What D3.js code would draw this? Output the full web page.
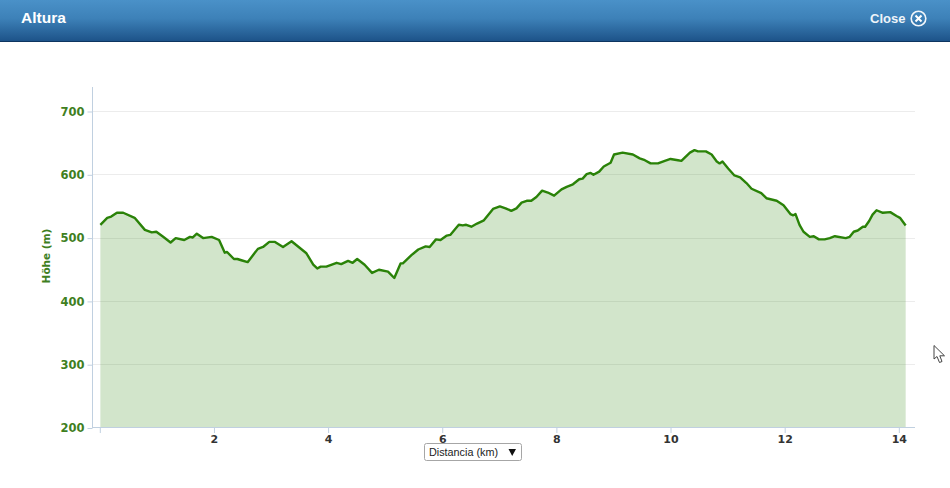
<!DOCTYPE html>
<html>
<head>
<meta charset="utf-8">
<script src="https://cdn.jsdelivr.net/npm/d3@7/dist/d3.min.js"></script>
<style>
html,body{margin:0;padding:0;background:#fff;overflow:hidden}
svg{display:block}
</style>
</head>
<body>
<svg id="chart" width="950" height="488"></svg>
<script>
const distanceKm = [0.01,0.13,0.20,0.30,0.41,0.61,0.79,0.91,0.99,1.11,1.24,1.33,1.48,1.58,1.63,1.70,1.81,1.96,2.09,2.19,2.23,2.35,2.41,2.48,2.59,2.77,2.86,2.97,3.07,3.21,3.36,3.62,3.74,3.81,3.87,3.97,4.15,4.23,4.35,4.43,4.51,4.64,4.77,4.89,5.05,5.16,5.27,5.31,5.46,5.58,5.71,5.78,5.89,5.97,6.08,6.14,6.29,6.36,6.42,6.51,6.61,6.73,6.89,7.01,7.11,7.21,7.30,7.39,7.48,7.56,7.65,7.75,7.85,7.96,8.09,8.18,8.29,8.40,8.46,8.53,8.60,8.65,8.75,8.83,8.95,9.01,9.16,9.34,9.46,9.55,9.65,9.78,9.90,10.00,10.13,10.19,10.34,10.42,10.48,10.62,10.72,10.81,10.86,10.91,11.01,11.12,11.22,11.33,11.42,11.59,11.68,11.86,11.98,12.10,12.15,12.19,12.26,12.33,12.44,12.51,12.60,12.70,12.79,12.88,13.07,13.14,13.21,13.28,13.37,13.41,13.48,13.54,13.61,13.72,13.85,13.96,14.02,14.12];
const elevationM = [521,532,534,540,540,532,513,509,510,502,493,500,497,502,501,507,500,502,497,477,478,467,467,465,462,483,486,494,494,486,495,476,458,452,455,455,461,459,464,461,467,458,445,450,447,437,460,460,473,482,487,486,498,497,504,505,521,520,521,518,523,528,546,550,547,543,547,556,559,559,565,575,572,567,577,581,585,593,594,601,603,600,605,613,619,632,635,632,626,623,618,618,622,625,623,622,635,639,637,637,632,621,618,621,610,599,596,587,578,571,563,559,552,538,536,538,521,510,502,503,498,498,500,503,500,502,510,512,518,518,527,537,544,540,541,535,532,520];
const xTicks = [0,2,4,6,8,10,12,14];
const yTicks = [200,300,400,500,600,700];
const titleText = "Altura";
const closeText = "Close";
const yTitle = "Höhe (m)";
const selectText = "Distancia (km)";

const green = "#2a8208";
const labelGreen = "#3f7f1f";
const axisColor = "#c0d0e0";
const svg = d3.select("#chart");
const points = distanceKm.map((d,i)=>({d, e:elevationM[i]}));

const x = d3.scaleLinear().domain([0,14.28]).range([99.8,914.8]);
const y = d3.scaleLinear().domain([200,738.7]).range([428,87]);

// header
const defs = svg.append("defs");
const grad = defs.append("linearGradient").attr("id","hdr").attr("x1",0).attr("y1",0).attr("x2",0).attr("y2",1);
grad.append("stop").attr("offset","0%").attr("stop-color","#4a91c8");
grad.append("stop").attr("offset","45%").attr("stop-color","#3d81b8");
grad.append("stop").attr("offset","100%").attr("stop-color","#1d5389");
svg.append("rect").attr("x",0).attr("y",0).attr("width",950).attr("height",41).attr("fill","url(#hdr)");
svg.append("rect").attr("x",0).attr("y",41).attr("width",950).attr("height",1).attr("fill","#0d3560");
svg.append("text").attr("x",21).attr("y",23).attr("font-family","'Liberation Sans',Arial,sans-serif")
  .attr("font-size",15.5).attr("font-weight","bold").attr("fill","#fff").text(titleText);
svg.append("text").attr("x",870).attr("y",23).attr("font-family","'Liberation Sans',Arial,sans-serif")
  .attr("font-size",13).attr("font-weight","bold").attr("fill","#eef4f9").text(closeText);
svg.append("circle").attr("cx",918.5).attr("cy",18.5).attr("r",7.3).attr("fill","none").attr("stroke","#f2f6fa").attr("stroke-width",1.6);
svg.append("path").attr("d","M915.5 15.5L921.5 21.5M921.5 15.5L915.5 21.5").attr("stroke","#fff").attr("stroke-width",2);

// grid
svg.append("g").selectAll("line").data(yTicks.slice(1)).join("line")
  .attr("x1",92).attr("x2",915)
  .attr("y1",d=>Math.floor(y(d))+0.5).attr("y2",d=>Math.floor(y(d))+0.5)
  .attr("stroke","#ececec").attr("stroke-width",1);

// area + line
const area = d3.area().x(d=>x(d.d)).y0(y(200)).y1(d=>y(d.e));
const line = d3.line().x(d=>x(d.d)).y(d=>y(d.e));
svg.append("path").datum(points).attr("d",area).attr("fill",green).attr("fill-opacity",0.21);
svg.append("path").datum(points).attr("d",line).attr("fill","none").attr("stroke",green).attr("stroke-width",2.4).attr("stroke-linejoin","round");

// axes
const xAxis = d3.axisBottom(x).tickValues(xTicks).tickSize(5).tickPadding(2).tickFormat(d=>d===0?"":d);
const gx = svg.append("g").attr("transform","translate(0,428)").call(xAxis);
gx.select(".domain").remove();
gx.selectAll("line").attr("stroke",axisColor);
gx.selectAll("text").attr("font-family","'DejaVu Sans',Verdana,sans-serif").attr("font-size",11).attr("font-weight","bold").attr("fill","#333");
svg.append("line").attr("x1",92).attr("x2",915).attr("y1",427.5).attr("y2",427.5).attr("stroke",axisColor);

const yAxis = d3.axisLeft(y).tickValues(yTicks).tickSize(5).tickPadding(3);
const gy = svg.append("g").attr("transform","translate(92.5,0)").call(yAxis);
gy.select(".domain").remove();
gy.selectAll("line").attr("stroke",axisColor);
gy.selectAll("text").attr("font-family","'DejaVu Sans',Verdana,sans-serif").attr("font-size",11.5).attr("font-weight","bold").attr("fill",labelGreen);
svg.append("line").attr("x1",92.5).attr("x2",92.5).attr("y1",87).attr("y2",428).attr("stroke",axisColor);

svg.append("text").attr("transform","translate(50,256) rotate(-90)").attr("text-anchor","middle")
  .attr("font-family","'DejaVu Sans',Verdana,sans-serif").attr("font-size",10.5).attr("font-weight","bold").attr("fill",labelGreen).text(yTitle);

// select box
svg.append("rect").attr("x",424.5).attr("y",443.5).attr("width",97).attr("height",17).attr("rx",2).attr("fill","#fff").attr("stroke","#a6a6a6");
svg.append("text").attr("x",429).attr("y",456).attr("font-family","'Liberation Sans',Arial,sans-serif").attr("font-size",10.8).attr("fill","#222").text(selectText);
svg.append("path").attr("d","M508.5 449L516 449L512.2 456Z").attr("fill","#111");

// cursor
svg.append("path").attr("d","M934 345.5L934 359L937 356.5L939.5 362.5L942 361.5L939.8 355.8L944.5 355.8Z")
  .attr("fill","#fff").attr("stroke","#444").attr("stroke-width",1);
</script>
</body>
</html>
